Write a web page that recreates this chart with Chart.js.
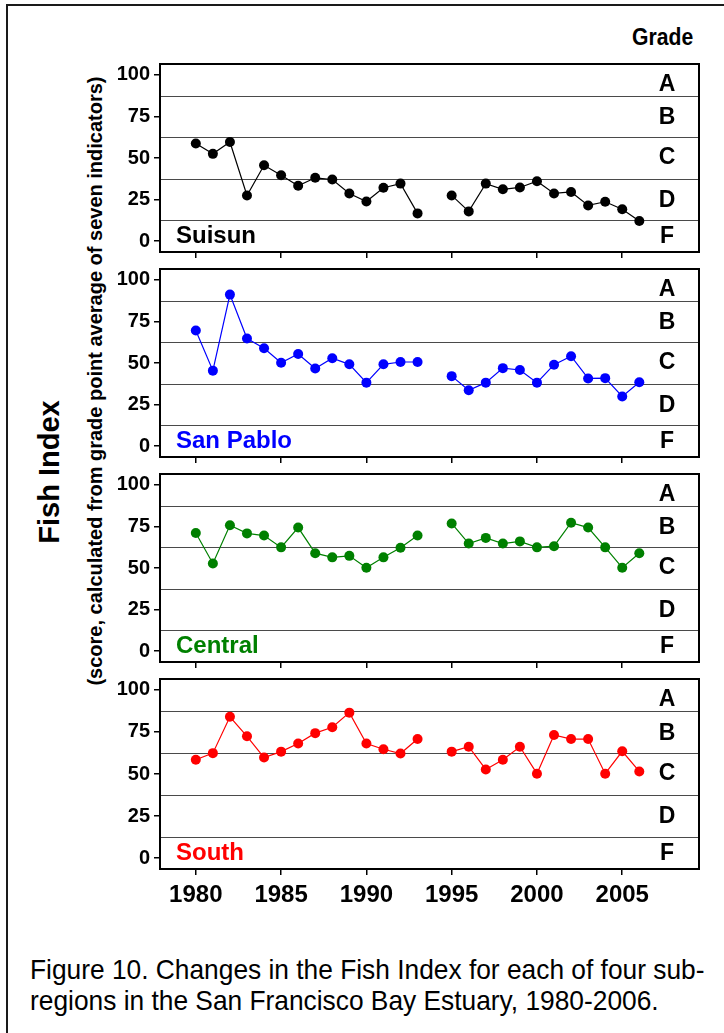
<!DOCTYPE html>
<html>
<head>
<meta charset="utf-8">
<script src="https://cdn.jsdelivr.net/npm/chart.js@4.4.1/dist/chart.umd.min.js"></script>
<style>
  html, body { margin: 0; padding: 0; background: #fff; }
  body { width: 724px; height: 1033px; position: relative; overflow: hidden;
         font-family: "Liberation Sans", Arial, sans-serif; }
  #frame { position: absolute; left: 6px; top: 4px; width: 800px; height: 1100px;
           border: 2px solid #1a1a1a; }
  canvas.panel { position: absolute; left: 0; }
  .vtitle { position: absolute; white-space: nowrap; font-weight: bold; color: #000;
            transform: translate(-50%, -50%) rotate(-90deg); }
  #fishIndex { left: 49px; top: 472px; font-size: 29px; }
  #fishSub { left: 95px; top: 381px; font-size: 20px; }
  #grade { position: absolute; left: 632px; top: 24px; font-weight: bold; font-size: 23px;
           transform: scaleX(0.92); transform-origin: left top; }
  #caption { position: absolute; left: 30px; top: 954px; font-size: 28px; line-height: 31px;
             color: #000; white-space: nowrap; transform: scaleX(0.94); transform-origin: left top; }
</style>
</head>
<body>
<div id="frame"></div>
<div class="vtitle" id="fishIndex">Fish Index</div>
<div class="vtitle" id="fishSub">(score, calculated from grade point average of seven indicators)</div>
<div id="grade">Grade</div>
<canvas class="panel" id="p0"></canvas>
<canvas class="panel" id="p1"></canvas>
<canvas class="panel" id="p2"></canvas>
<canvas class="panel" id="p3"></canvas>
<div id="caption">Figure 10. Changes in the Fish Index for each of four sub-<br>regions in the San Francisco Bay Estuary, 1980-2006.</div>
<script>
// Survey years (no survey score for 1994)
const years = [1980, 1981, 1982, 1983, 1984, 1985, 1986, 1987, 1988, 1989, 1990, 1991, 1992, 1993,
               1994, 1995, 1996, 1997, 1998, 1999, 2000, 2001, 2002, 2003, 2004, 2005, 2006];

// Fish Index scores by sub-region
const suisun   = [58.7, 52.5, 59.6, 27.5, 45.6, 39.6, 33.3, 38.1, 37.1, 28.7, 23.8, 32.1, 34.6, 16.7,
                  null, 27.5, 17.9, 34.6, 31.2, 32.3, 36.0, 28.7, 29.6, 21.5, 23.7, 19.2, 12.1];
const sanPablo = [69.5, 45.4, 91.1, 64.7, 58.9, 50.2, 55.4, 46.7, 52.9, 49.2, 38.2, 49.2, 50.6, 50.6,
                  null, 42.1, 33.6, 38.2, 46.9, 45.8, 38.2, 49.0, 54.1, 40.7, 40.9, 29.9, 38.4];
const central  = [71.0, 52.7, 75.7, 70.8, 69.5, 62.4, 74.3, 58.9, 56.4, 57.3, 50.2, 56.4, 62.2, 69.5,
                  null, 76.8, 64.7, 68.1, 64.7, 66.0, 62.4, 63.1, 77.2, 74.3, 62.4, 50.2, 58.9];
const south    = [58.5, 62.4, 84.0, 72.4, 59.8, 63.3, 68.1, 74.3, 77.8, 86.5, 68.1, 64.7, 62.2, 70.8,
                  null, 63.3, 66.2, 52.7, 58.5, 66.2, 50.2, 73.2, 70.8, 70.8, 50.2, 63.5, 51.5];

const regionNames  = ['Suisun', 'San Pablo', 'Central', 'South'];
const regionSeries = [suisun, sanPablo, central, south];
const regionColors = ['#000000', '#0000ff', '#008000', '#ff0000'];

// Axis ticks and grade bands
const xTicks = [1980, 1985, 1990, 1995, 2000, 2005];
const yTicks = [0, 25, 50, 75, 100];
const gradeBounds = [12.5, 37.5, 62.5, 87.5];
const gradeLetters = ['A', 'B', 'C', 'D', 'F'];
const gradeLetterPos = [94, 74, 50, 24.5, 2.5];

const FONT = '"Liberation Sans", Arial, sans-serif';

// Grade lines, grade letters, region name and the panel frame
const panelDecor = {
  id: 'panelDecor',
  beforeDatasetsDraw(chart, args, opts) {
    const { ctx, chartArea: a } = chart;
    const y = chart.scales.y;
    ctx.save();
    ctx.strokeStyle = '#4a4a4a';
    ctx.lineWidth = 1.2;
    gradeBounds.forEach(v => {
      const py = Math.round(y.getPixelForValue(v)) + 0.5;
      ctx.beginPath(); ctx.moveTo(a.left, py); ctx.lineTo(a.right, py); ctx.stroke();
    });
    ctx.fillStyle = '#000';
    ctx.font = 'bold 23px ' + FONT;
    ctx.textAlign = 'center';
    ctx.textBaseline = 'middle';
    gradeLetters.forEach((g, i) => ctx.fillText(g, a.right - 32, y.getPixelForValue(gradeLetterPos[i])));
    ctx.fillStyle = opts.color;
    ctx.font = 'bold 24px ' + FONT;
    ctx.textAlign = 'left';
    ctx.fillText(opts.name, a.left + 16, y.getPixelForValue(3));
    ctx.restore();
  },
  afterDraw(chart) {
    const { ctx, chartArea: a } = chart;
    ctx.save();
    ctx.strokeStyle = '#000';
    ctx.lineWidth = 2;
    ctx.strokeRect(a.left, a.top, a.right - a.left, a.bottom - a.top);
    ctx.restore();
  }
};

const PANEL_TOP = 60, PANEL_H = 194, PANEL_STEP = 205, PAD_TOP = 12;

regionSeries.forEach((series, i) => {
  const last = i === regionSeries.length - 1;
  const xAxisH = last ? 50 : 14;
  const canvas = document.getElementById('p' + i);
  canvas.width = 724;
  canvas.height = PAD_TOP + PANEL_H + xAxisH;
  canvas.style.top = (PANEL_TOP + PANEL_STEP * i - PAD_TOP) + 'px';

  new Chart(canvas, {
    type: 'line',
    data: {
      datasets: [{
        data: years.map((yr, k) => ({ x: yr, y: series[k] })),
        borderColor: regionColors[i],
        backgroundColor: regionColors[i],
        borderWidth: 1.2,
        pointRadius: 5,
        pointBorderWidth: 0,
        spanGaps: false,
        tension: 0
      }]
    },
    options: {
      responsive: false,
      animation: false,
      layout: { padding: { top: PAD_TOP, left: 0, right: 25, bottom: 0 } },
      plugins: {
        legend: { display: false },
        tooltip: { enabled: false },
        panelDecor: { name: regionNames[i], color: regionColors[i] }
      },
      scales: {
        x: {
          type: 'linear',
          min: 1977.9,
          max: 2009.5,
          afterBuildTicks: s => { s.ticks = xTicks.map(v => ({ value: v })); },
          afterFit: s => { s.height = xAxisH; },
          border: { display: false },
          grid: { drawOnChartArea: false, drawTicks: true, tickLength: 6, color: '#000', lineWidth: 1.5 },
          ticks: {
            autoSkip: false, maxRotation: 0, padding: 6, color: '#000',
            font: { family: FONT, size: 24, weight: 'bold' },
            callback: v => last ? String(v) : ''
          }
        },
        y: {
          min: -6.5,
          max: 106.5,
          afterBuildTicks: s => { s.ticks = yTicks.map(v => ({ value: v })); },
          afterFit: s => { s.width = 160; },
          border: { display: false },
          grid: { drawOnChartArea: false, drawTicks: true, tickLength: 6, color: '#000', lineWidth: 1.5 },
          ticks: {
            padding: 4, color: '#000',
            font: { family: FONT, size: 20, weight: 'bold' },
            callback: v => String(v)
          }
        }
      }
    },
    plugins: [panelDecor]
  });
});
</script>
</body>
</html>
